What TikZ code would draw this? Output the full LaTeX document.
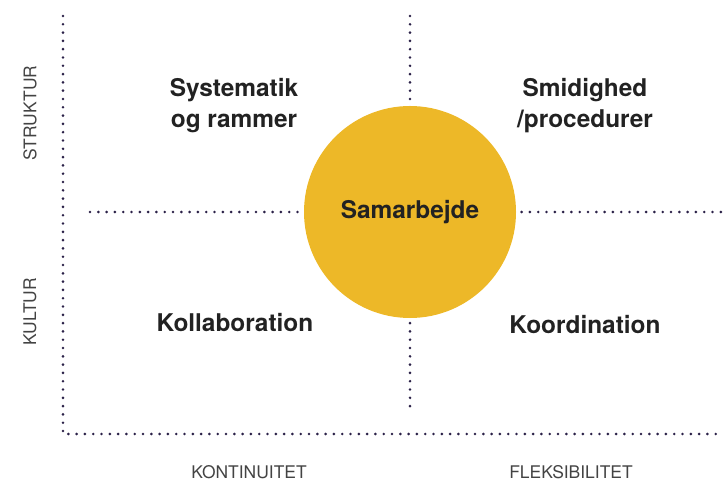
\documentclass[tikz,border=0pt]{standalone}
\usepackage{fontspec}
\setmainfont{TeX Gyre Heros}
\usepackage{tikz}

\definecolor{dotpurple}{HTML}{2B2148}
\definecolor{samgul}{HTML}{EDB828}
\definecolor{tekst}{HTML}{222222}

\begin{document}
\begin{tikzpicture}[x=1bp, y=-1bp]
  \tikzset{
    prikker/.style={dotpurple, line width=2.9bp, line cap=round, dash pattern=on 0pt off 8.3bp},
    felt/.style={text=tekst, font=\fontsize{24.5}{31}\selectfont\bfseries, align=center},
    akse/.style={text=tekst!85, inner sep=0pt, font=\fontsize{17.5}{20}\selectfont}
  }
  \useasboundingbox (0,0) rectangle (724,482);
  % akser
  \coordinate (top) at (63,16);
  \coordinate (hjorne) at (63,434);
  \coordinate (hoejre) at (724,434);
  \coordinate (midtop) at (410,16);
  \coordinate (midbund) at (410,408);
  \coordinate (midvenstre) at (90,212);
  \coordinate (midhoejre) at (724,212);
  \draw[prikker] (top) -- (hjorne) -- (hoejre);
  \draw[prikker] (midtop) -- (midbund);
  \draw[prikker] (midvenstre) -- (midhoejre);
  % cirkel
  \node[circle, fill=samgul, minimum size=212bp, inner sep=0pt] (sam) at (410,212) {};
  \node[felt] (samtekst) at (sam.center) {Samarbejde};
  % felter
  \node[felt] (system) at (234,106) {Systematik\\og rammer};
  \node[felt] (smidig) at (585,106) {Smidighed\\/procedurer};
  \node[felt] (kollab) at (235,323) {Kollaboration};
  \node[felt] (koord) at (585,325) {Koordination};
  % aksetekster
  \node[akse, rotate=90] (struktur) at (30,113) {STRUKTUR};
  \node[akse, rotate=90] (kultur) at (30,312) {KULTUR};
  \node[akse, anchor=base] (kontinuitet) at (249,478) {KONTINUITET};
  \node[akse, anchor=base] (fleks) at (571,478) {FLEKSIBILITET};
\end{tikzpicture}
\end{document}
